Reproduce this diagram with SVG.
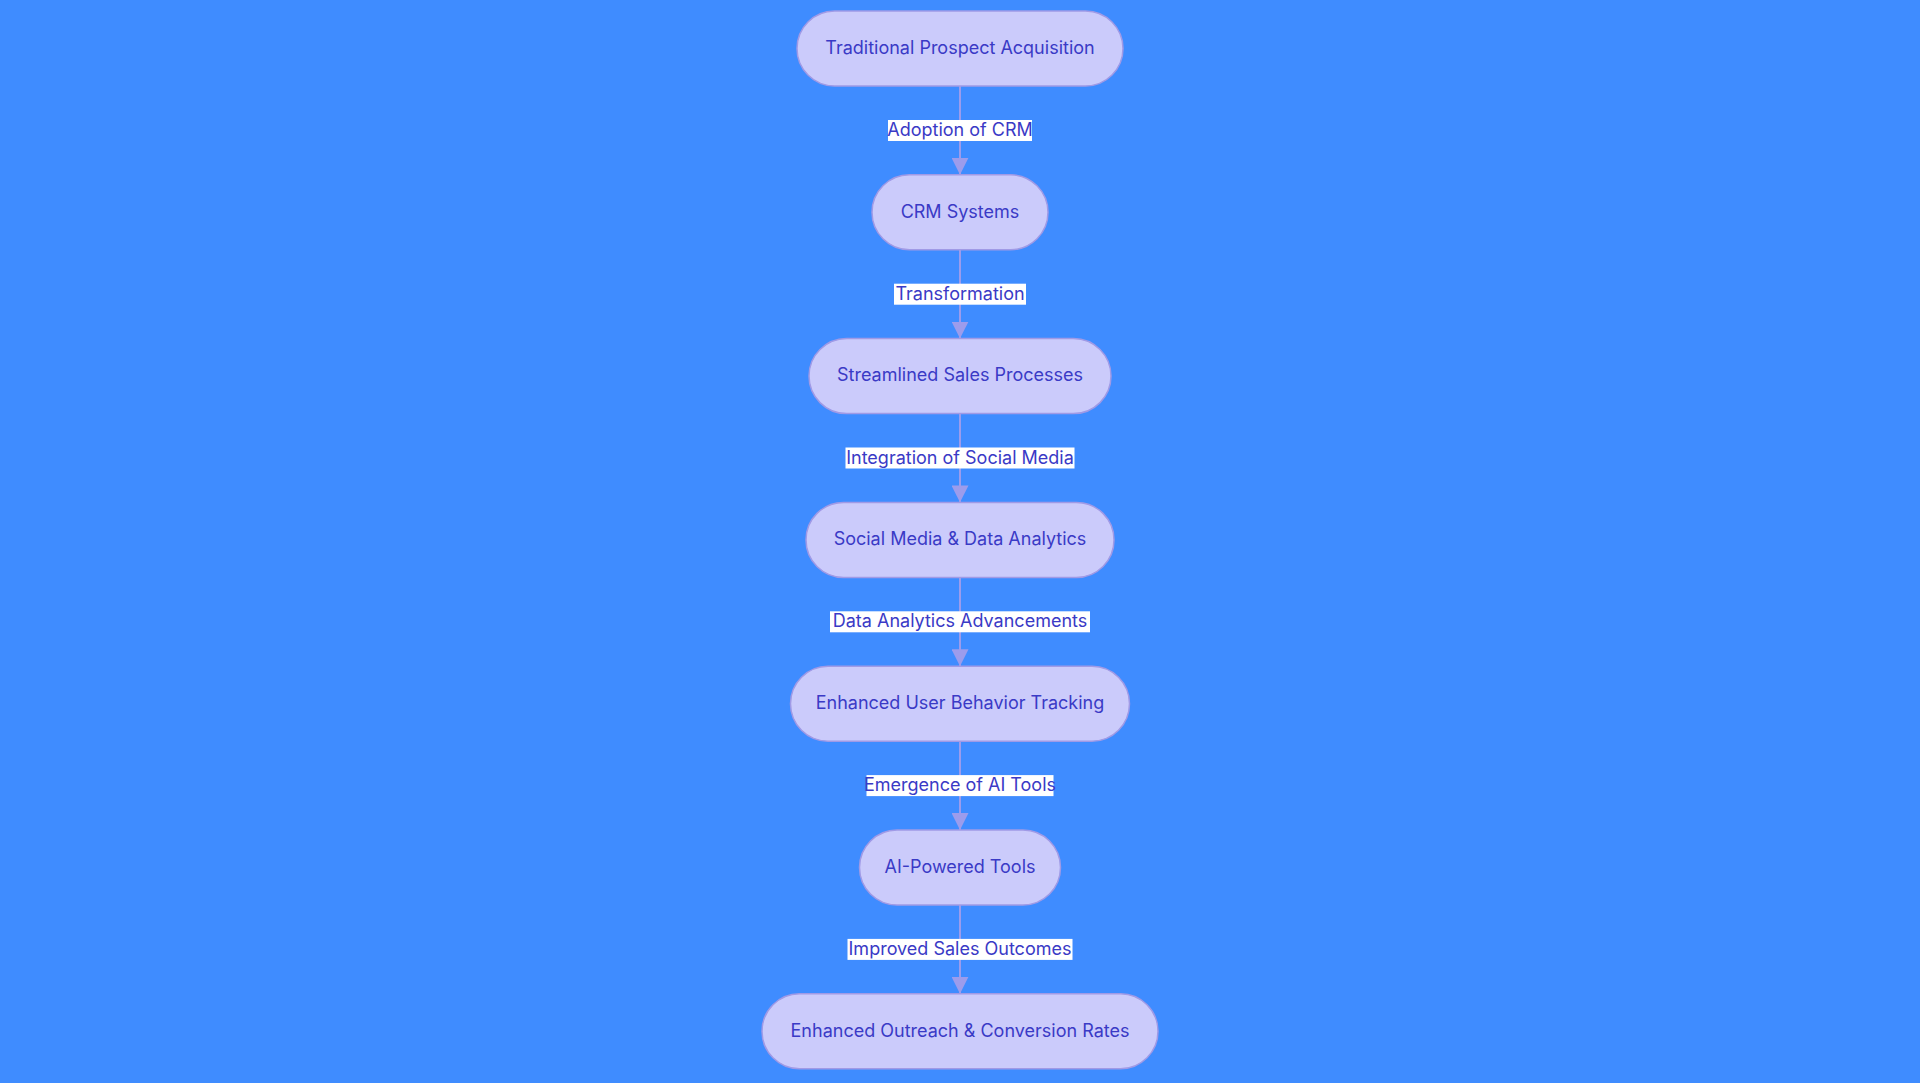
<svg xmlns="http://www.w3.org/2000/svg" width="1920" height="1083" viewBox="0 0 1920 1083">
<defs>
<style>
.node rect{fill:#cbcbfb;stroke:#a09ae6;stroke-width:1.5}
.node text{font-family:"Inter","Liberation Sans",sans-serif;font-size:18px;fill:#3a3ac6;text-anchor:middle;dominant-baseline:central}
.edge line{stroke:#9c9cec;stroke-width:2}
.lbl rect{fill:#ffffff}
.lbl text{font-family:"Inter","Liberation Sans",sans-serif;font-size:18px;fill:#3a3ac6;text-anchor:middle;dominant-baseline:central}
</style>
<marker id="arr" viewBox="0 0 10 10" refX="10" refY="5" markerWidth="17" markerHeight="17" markerUnits="userSpaceOnUse" orient="auto">
<path d="M0,0 L10,5 L0,10 z" fill="#9c9cec"/>
</marker>
</defs>
<rect width="1920" height="1083" fill="#3f8cff"/>
<g id="connectors">
<g class="edge">
<line x1="960" y1="86" x2="960" y2="174.8" marker-end="url(#arr)"/>
<line x1="960" y1="249.8" x2="960" y2="338.6" marker-end="url(#arr)"/>
<line x1="960" y1="413.6" x2="960" y2="502.4" marker-end="url(#arr)"/>
<line x1="960" y1="577.4" x2="960" y2="666.2" marker-end="url(#arr)"/>
<line x1="960" y1="741.2" x2="960" y2="830" marker-end="url(#arr)"/>
<line x1="960" y1="905" x2="960" y2="993.8" marker-end="url(#arr)"/>
</g>
<g class="lbl">
<rect x="888" y="120" width="144" height="21"/><text x="960" y="129.4">Adoption of CRM</text>
<rect x="894" y="283.7" width="132" height="21"/><text x="960" y="293.2">Transformation</text>
<rect x="845.5" y="447.5" width="229" height="21"/><text x="960" y="457">Integration of Social Media</text>
<rect x="830" y="611.3" width="260" height="21"/><text x="960" y="620.8">Data Analytics Advancements</text>
<rect x="866.5" y="775.1" width="187" height="21"/><text x="960" y="784.6">Emergence of AI Tools</text>
<rect x="847.5" y="938.9" width="225" height="21"/><text x="960" y="948.4">Improved Sales Outcomes</text>
</g>
</g>
<g id="n1" class="node"><rect x="797" y="11" width="326" height="75" rx="37.5"/><text x="960" y="47.3">Traditional Prospect Acquisition</text></g>
<g id="n2" class="node"><rect x="872" y="174.8" width="176" height="75" rx="37.5"/><text x="960" y="211.1">CRM Systems</text></g>
<g id="n3" class="node"><rect x="809" y="338.6" width="302" height="75" rx="37.5"/><text x="960" y="374.9">Streamlined Sales Processes</text></g>
<g id="n4" class="node"><rect x="806" y="502.4" width="308" height="75" rx="37.5"/><text x="960" y="538.7">Social Media &amp; Data Analytics</text></g>
<g id="n5" class="node"><rect x="790.5" y="666.2" width="339" height="75" rx="37.5"/><text x="960" y="702.5">Enhanced User Behavior Tracking</text></g>
<g id="n6" class="node"><rect x="859.5" y="830" width="201" height="75" rx="37.5"/><text x="960" y="866.3">AI-Powered Tools</text></g>
<g id="n7" class="node"><rect x="762" y="993.8" width="396" height="75" rx="37.5"/><text x="960" y="1030.1">Enhanced Outreach &amp; Conversion Rates</text></g>
</svg>
